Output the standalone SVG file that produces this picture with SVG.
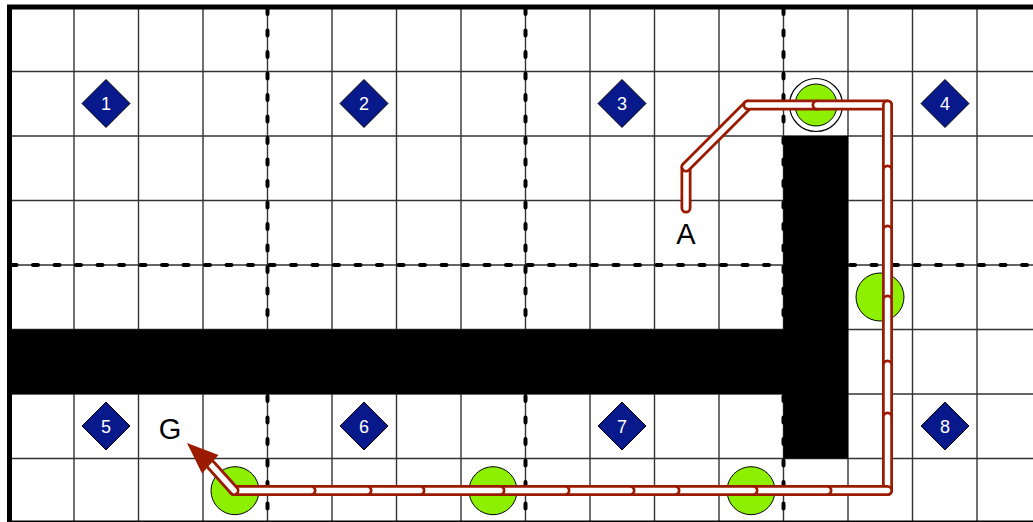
<svg xmlns="http://www.w3.org/2000/svg" width="1033" height="522" viewBox="0 0 1033 522">
<style>
.g{stroke:#333;stroke-width:1.4;fill:none}
.d{stroke:#000;stroke-width:4;stroke-linecap:round;stroke-dasharray:5 16.5;fill:none}
.b{stroke:#000;stroke-width:5;fill:none}
.w{fill:#000}
.dm{fill:#08198c;stroke:#000;stroke-width:1}
.dt{fill:#fff;font-family:"Liberation Sans",Arial,sans-serif;font-size:18px;text-anchor:middle}
.c{fill:#8cf000;stroke:#000;stroke-width:1}
.o{stroke:#9b1b00;stroke-width:11;stroke-linecap:round;fill:none}
.i{stroke:#fff;stroke-width:5.5;stroke-linecap:round;fill:none}
.lb{fill:#000;font-family:"Liberation Sans",Arial,sans-serif;font-size:29px;text-anchor:middle}
</style>
<rect width="1033" height="522" fill="#fff"/>
<g id="grid">
<path class="g" d="M74 7V523M138.5 7V523M203 7V523M267.5 7V523M332 7V523M396.5 7V523M461 7V523M525.5 7V523M590 7V523M654.5 7V523M719 7V523M783.5 7V523M848 7V523M912.5 7V523M977 7V523"/>
<path class="g" d="M9.5 71.5H1033M9.5 136H1033M9.5 200.5H1033M9.5 265H1033M9.5 329.5H1033M9.5 394H1033M9.5 458.5H1033"/>
<path class="d" d="M267.5 7V523M525.5 7V523M783.5 7V523" stroke-dashoffset="-2"/>
<path class="d" d="M9.5 265H1033" stroke-dashoffset="-2"/>
<path class="b" d="M7 7H1033M9.5 4.5V523M7 523H1033"/>
</g>
<g id="walls">
<rect class="w" x="9.5" y="329.5" width="838.5" height="64.5"/>
<rect class="w" x="783.5" y="136" width="64.5" height="322.5"/>
</g>
<g id="landmark-1"><polygon class="dm" points="106,79.5 130,103.5 106,127.5 82,103.5"/><text class="dt" x="106" y="110">1</text></g>
<g id="landmark-2"><polygon class="dm" points="364,79.5 388,103.5 364,127.5 340,103.5"/><text class="dt" x="364" y="110">2</text></g>
<g id="landmark-3"><polygon class="dm" points="622,79.5 646,103.5 622,127.5 598,103.5"/><text class="dt" x="622" y="110">3</text></g>
<g id="landmark-4"><polygon class="dm" points="945,79.5 969,103.5 945,127.5 921,103.5"/><text class="dt" x="945" y="110">4</text></g>
<g id="landmark-5"><polygon class="dm" points="106,402 130,426 106,450 82,426"/><text class="dt" x="106" y="432.5">5</text></g>
<g id="landmark-6"><polygon class="dm" points="364,402 388,426 364,450 340,426"/><text class="dt" x="364" y="432.5">6</text></g>
<g id="landmark-7"><polygon class="dm" points="622,402 646,426 622,450 598,426"/><text class="dt" x="622" y="432.5">7</text></g>
<g id="landmark-8"><polygon class="dm" points="945,402 969,426 945,450 921,426"/><text class="dt" x="945" y="432.5">8</text></g>
<g id="target-top"><circle cx="816" cy="105" r="26.5" fill="#fff" stroke="#000" stroke-width="1.2"/><circle class="c" cx="816" cy="105" r="21"/></g>
<g id="target-right"><circle class="c" cx="880" cy="297" r="24"/></g>
<g id="target-b1"><circle class="c" cx="235" cy="490.7" r="24"/></g>
<g id="target-b2"><circle class="c" cx="493" cy="490.7" r="24"/></g>
<g id="target-b3"><circle class="c" cx="751" cy="490.7" r="24"/></g>
<g id="connectors">
<path class="o" d="M686 208V167"/><path class="i" d="M686 208V167"/>
<path class="o" d="M686 167L748 105"/><path class="i" d="M686 167L748 105"/>
<path class="o" d="M748 105H817"/><path class="i" d="M748 105H817"/>
<path class="o" d="M817 105H887.5"/><path class="i" d="M817 105H887.5"/>
<path class="o" d="M887.5 105V170"/><path class="i" d="M887.5 105V170"/>
<path class="o" d="M887.5 170V230"/><path class="i" d="M887.5 170V230"/>
<path class="o" d="M887.5 230V300"/><path class="i" d="M887.5 230V300"/>
<path class="o" d="M887.5 300V365"/><path class="i" d="M887.5 300V365"/>
<path class="o" d="M887.5 365V417"/><path class="i" d="M887.5 365V417"/>
<path class="o" d="M887.5 417V490.5"/><path class="i" d="M887.5 417V490.5"/>
<path class="o" d="M887.5 490.5H827"/><path class="i" d="M887.5 490.5H827"/>
<path class="o" d="M827 490.5H753"/><path class="i" d="M827 490.5H753"/>
<path class="o" d="M753 490.5H675"/><path class="i" d="M753 490.5H675"/>
<path class="o" d="M675 490.5H630"/><path class="i" d="M675 490.5H630"/>
<path class="o" d="M630 490.5H565"/><path class="i" d="M630 490.5H565"/>
<path class="o" d="M565 490.5H500"/><path class="i" d="M565 490.5H500"/>
<path class="o" d="M500 490.5H420"/><path class="i" d="M500 490.5H420"/>
<path class="o" d="M420 490.5H367"/><path class="i" d="M420 490.5H367"/>
<path class="o" d="M367 490.5H311"/><path class="i" d="M367 490.5H311"/>
<path class="o" d="M311 490.5H234"/><path class="i" d="M311 490.5H234"/>
<path class="o" d="M234 490.5L211 465"/><path class="i" d="M234 490.5L211 465"/>
<polygon points="187,443 202,473.5 218.5,455" fill="#9b1b00"/>
</g>
<g id="labels">
<text class="lb" x="686" y="244">A</text>
<text class="lb" x="170" y="438.5">G</text>
</g>
</svg>
